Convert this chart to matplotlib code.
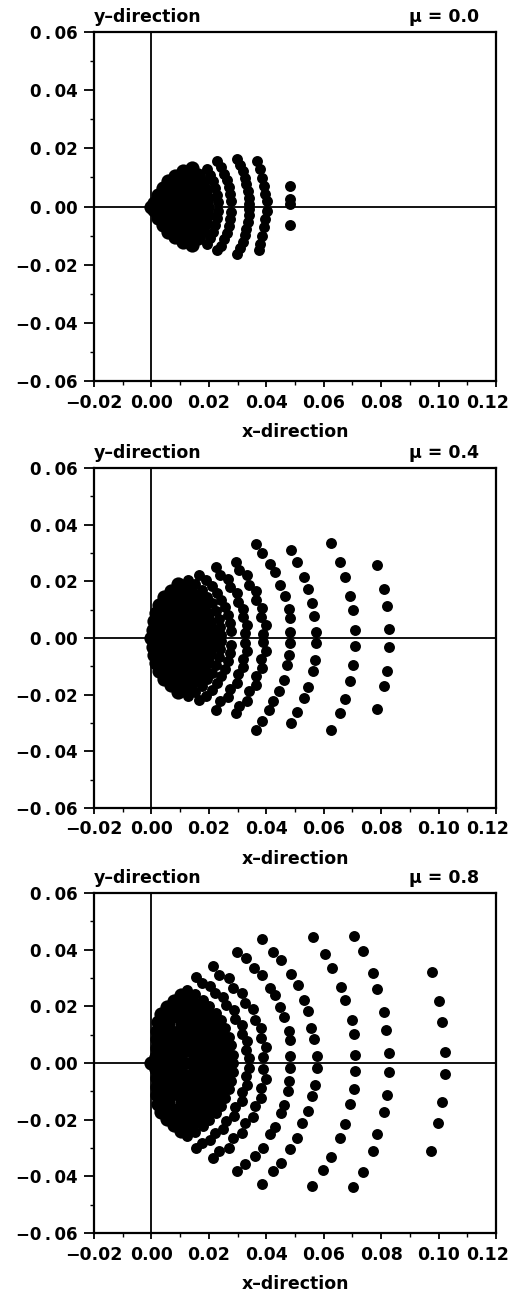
import matplotlib
matplotlib.use("Agg")
import matplotlib.pyplot as plt
from matplotlib.ticker import FixedLocator, MultipleLocator

mu_labels = ["\u03bc = 0.0", "\u03bc = 0.4", "\u03bc = 0.8"]
x_ticks = [-0.02, 0.00, 0.02, 0.04, 0.06, 0.08, 0.10, 0.12]
x_tick_labels = ["\u22120.02", "0.00", "0.02", "0.04", "0.06", "0.08", "0.10", "0.12"]
y_ticks = [-0.06, -0.04, -0.02, 0.00, 0.02, 0.04, 0.06]
y_tick_labels = ["\u22120\u2009.\u200906", "\u22120\u2009.\u200904", "\u22120\u2009.\u200902", "0\u2009.\u200900",
                 "0\u2009.\u200902", "0\u2009.\u200904", "0\u2009.\u200906"]

# ---- mu = 0.0 : (x, y) points ----
pts_mu00 = [
    # outer column
    (0.0483, 0.0072), (0.0483, 0.0025), (0.0483, 0.0007), (0.0483, -0.0065),
    # ring ~0.040
    (0.0367, 0.0156), (0.0379, 0.0128), (0.0385, 0.0099), (0.0391, 0.0071), (0.0397, 0.0042), (0.0402, 0.0019),
    (0.0402, -0.0015), (0.0397, -0.0043), (0.0391, -0.0072), (0.0385, -0.0100), (0.0379, -0.0129), (0.0373, -0.0151),
    # ring ~0.034
    (0.0297, 0.0165), (0.0308, 0.0144), (0.0318, 0.0122), (0.0325, 0.0099), (0.0331, 0.0077), (0.0336, 0.0053), (0.0339, 0.0030), (0.0340, 0.0009),
    (0.0297, -0.0165), (0.0308, -0.0144), (0.0318, -0.0122), (0.0325, -0.0099), (0.0331, -0.0077), (0.0336, -0.0053), (0.0339, -0.0030), (0.0340, -0.0009),
    # ring ~0.028
    (0.0230, 0.0155), (0.0243, 0.0135), (0.0254, 0.0113), (0.0263, 0.0091), (0.0270, 0.0067), (0.0275, 0.0043), (0.0277, 0.0019),
    (0.0230, -0.0150), (0.0243, -0.0135), (0.0254, -0.0113), (0.0263, -0.0091), (0.0270, -0.0067), (0.0275, -0.0043), (0.0277, -0.0019),
    # ring ~0.023
    (0.0192, 0.0130), (0.0205, 0.0109), (0.0215, 0.0087), (0.0223, 0.0064), (0.0229, 0.0040), (0.0231, 0.0016),
    (0.0192, -0.0130), (0.0205, -0.0109), (0.0215, -0.0087), (0.0223, -0.0064), (0.0229, -0.0040), (0.0231, -0.0016),
]
core_mu00 = [
    (0.0195, 0.0), (0.0193, 0.0029), (0.0186, 0.0057), (0.0176, 0.0084), (0.0162, 0.0109), (0.0143, 0.0133),
    (0.0193, -0.0029), (0.0186, -0.0057), (0.0176, -0.0084), (0.0162, -0.0109), (0.0143, -0.0133),
    (0.0165, 0.0), (0.0162, 0.0029), (0.0155, 0.0056), (0.0143, 0.0083), (0.0126, 0.0106), (0.0110, 0.0123),
    (0.0162, -0.0029), (0.0155, -0.0056), (0.0143, -0.0083), (0.0126, -0.0106), (0.0110, -0.0123),
    (0.0135, 0.0), (0.0131, 0.0030), (0.0121, 0.0059), (0.0105, 0.0085), (0.0083, 0.0106),
    (0.0131, -0.0030), (0.0121, -0.0059), (0.0105, -0.0085), (0.0083, -0.0106),
    (0.0105, 0.0), (0.0102, 0.0025), (0.0093, 0.0049), (0.0078, 0.0070), (0.0059, 0.0087),
    (0.0102, -0.0025), (0.0093, -0.0049), (0.0078, -0.0070), (0.0059, -0.0087),
    (0.0075, 0.0), (0.0071, 0.0026), (0.0057, 0.0048), (0.0040, 0.0064),
    (0.0071, -0.0026), (0.0057, -0.0048), (0.0040, -0.0064),
    (0.0045, 0.0), (0.0039, 0.00225), (0.00225, 0.0039), (0.0039, -0.00225), (0.00225, -0.0039),
    (0.0015, 0.0), (0.00075, 0.0013), (0.00075, -0.0013),
    (0.0, 0.0),
]

# ---- mu = 0.4 ----
pts_mu04 = [
    # ring ~0.083
    (0.0787, 0.0256), (0.0810, 0.0172), (0.0820, 0.0112), (0.0828, 0.0032),
    (0.0828, -0.0033), (0.0820, -0.0116), (0.0810, -0.0171), (0.0787, -0.0250),
    # ring ~0.071
    (0.0625, 0.0334), (0.0655, 0.0268), (0.0675, 0.0215), (0.0692, 0.0147), (0.0702, 0.0098), (0.0710, 0.0028),
    (0.0710, -0.0028), (0.0702, -0.0097), (0.0692, -0.0150), (0.0675, -0.0214), (0.0655, -0.0264), (0.0625, -0.0325),
    # ring ~0.057
    (0.0487, 0.0309), (0.0507, 0.0268), (0.0530, 0.0215), (0.0547, 0.0174), (0.0559, 0.0122), (0.0567, 0.0078), (0.0574, 0.0022),
    (0.0574, -0.0019), (0.0568, -0.0077), (0.0562, -0.0118), (0.0547, -0.0174), (0.0530, -0.0212), (0.0507, -0.0262), (0.0487, -0.0299),
    # ring ~0.048
    (0.0364, 0.0332), (0.0385, 0.0301), (0.0414, 0.0262), (0.0431, 0.0233), (0.0449, 0.0186), (0.0466, 0.0149),
    (0.0478, 0.0104), (0.0483, 0.0069), (0.0483, 0.0020), (0.0483, -0.0019), (0.0480, -0.0060), (0.0472, -0.0097),
    (0.0460, -0.0147), (0.0443, -0.0188), (0.0425, -0.0223), (0.0408, -0.0253), (0.0385, -0.0294), (0.0364, -0.0323),
    # ring ~0.040 (staggered pairs)
    (0.0295, 0.0270), (0.0306, 0.0239), (0.0334, 0.0221), (0.0339, 0.0188), (0.0364, 0.0166),
    (0.0365, 0.0133), (0.0386, 0.0107), (0.0381, 0.0074), (0.0398, 0.0045), (0.0388, 0.0014),
    (0.0295, -0.0266), (0.0306, -0.0239), (0.0334, -0.0221), (0.0339, -0.0188), (0.0364, -0.0166),
    (0.0365, -0.0133), (0.0386, -0.0107), (0.0381, -0.0074), (0.0398, -0.0045), (0.0388, -0.0014),
    # ring ~0.034 (staggered pairs)
    (0.0225, 0.0250), (0.0239, 0.0223), (0.0266, 0.0208), (0.0275, 0.0179), (0.0298, 0.0158),
    (0.0301, 0.0128), (0.0320, 0.0104), (0.0318, 0.0074), (0.0334, 0.0047), (0.0327, 0.0018),
    (0.0225, -0.0253), (0.0239, -0.0223), (0.0266, -0.0208), (0.0275, -0.0179), (0.0298, -0.0158),
    (0.0301, -0.0128), (0.0320, -0.0104), (0.0318, -0.0074), (0.0334, -0.0047), (0.0327, -0.0018),
    # ring ~0.028
    (0.0167, 0.0222), (0.0190, 0.0203), (0.0210, 0.0182), (0.0228, 0.0160), (0.0243, 0.0135),
    (0.0256, 0.0109), (0.0266, 0.0081), (0.0273, 0.0053), (0.0277, 0.0024),
    (0.0167, -0.0218), (0.0190, -0.0203), (0.0210, -0.0182), (0.0228, -0.0160), (0.0243, -0.0135),
    (0.0256, -0.0109), (0.0266, -0.0081), (0.0273, -0.0053), (0.0277, -0.0024),
    # ring ~0.024
    (0.0129, 0.0206), (0.0153, 0.0189), (0.0175, 0.0169), (0.0194, 0.0146), (0.0210, 0.0122),
    (0.0224, 0.0095), (0.0234, 0.0067), (0.0240, 0.0038), (0.0243, 0.0009),
    (0.0129, -0.0206), (0.0153, -0.0189), (0.0175, -0.0169), (0.0194, -0.0146), (0.0210, -0.0122),
    (0.0224, -0.0095), (0.0234, -0.0067), (0.0240, -0.0038), (0.0243, -0.0009),
]
core_mu04 = [
    (0.0210, 0.0), (0.0208, 0.0029), (0.0202, 0.0058), (0.0192, 0.0085), (0.0178, 0.0111), (0.0161, 0.0135),
    (0.0140, 0.0156), (0.0117, 0.0174), (0.0092, 0.0189),
    (0.0208, -0.0029), (0.0202, -0.0058), (0.0192, -0.0085), (0.0178, -0.0111), (0.0161, -0.0135),
    (0.0140, -0.0156), (0.0117, -0.0174), (0.0092, -0.0189),
    (0.0180, 0.0), (0.0177, 0.0031), (0.0170, 0.0059), (0.0158, 0.0087), (0.0140, 0.0113), (0.0120, 0.0134),
    (0.0095, 0.0153), (0.0068, 0.0167),
    (0.0177, -0.0031), (0.0170, -0.0059), (0.0158, -0.0087), (0.0140, -0.0113), (0.0120, -0.0134),
    (0.0095, -0.0153), (0.0068, -0.0167),
    (0.0150, 0.0), (0.0147, 0.0031), (0.0137, 0.0061), (0.0121, 0.0088), (0.0100, 0.0111), (0.0075, 0.0130), (0.0044, 0.0143),
    (0.0147, -0.0031), (0.0137, -0.0061), (0.0121, -0.0088), (0.0100, -0.0111), (0.0075, -0.0130), (0.0044, -0.0143),
    (0.0120, 0.0), (0.0116, 0.0032), (0.0103, 0.0062), (0.0082, 0.0088), (0.0056, 0.0106), (0.0025, 0.0117),
    (0.0116, -0.0032), (0.0103, -0.0062), (0.0082, -0.0088), (0.0056, -0.0106), (0.0025, -0.0117),
    (0.0090, 0.0), (0.0085, 0.0031), (0.0069, 0.0058), (0.0045, 0.0078), (0.0016, 0.0089),
    (0.0085, -0.0031), (0.0069, -0.0058), (0.0045, -0.0078), (0.0016, -0.0089),
    (0.0060, 0.0), (0.0053, 0.0027), (0.0035, 0.0049), (0.0010, 0.0059),
    (0.0053, -0.0027), (0.0035, -0.0049), (0.0010, -0.0059),
    (0.0030, 0.0), (0.0023, 0.0019), (0.0005, 0.0030), (0.0023, -0.0019), (0.0005, -0.0030),
    (0.0, 0.0),
]

# ---- mu = 0.8 ----
pts_mu08 = [
    # ring ~0.102
    (0.0976, 0.0320), (0.1002, 0.0219), (0.1013, 0.0144), (0.1023, 0.0039),
    (0.1023, -0.0039), (0.1013, -0.0138), (0.0999, -0.0211), (0.0973, -0.0311),
    # ring ~0.083
    (0.0704, 0.0450), (0.0736, 0.0395), (0.0771, 0.0317), (0.0787, 0.0262), (0.0810, 0.0180), (0.0817, 0.0117), (0.0829, 0.0035),
    (0.0829, -0.0032), (0.0820, -0.0112), (0.0810, -0.0173), (0.0787, -0.0252), (0.0771, -0.0311), (0.0736, -0.0384), (0.0701, -0.0438),
    # ring ~0.071
    (0.0562, 0.0446), (0.0603, 0.0384), (0.0628, 0.0337), (0.0660, 0.0270), (0.0675, 0.0223), (0.0698, 0.0152), (0.0704, 0.0102), (0.0710, 0.0029),
    (0.0710, -0.0027), (0.0704, -0.0090), (0.0692, -0.0144), (0.0675, -0.0215), (0.0655, -0.0264), (0.0625, -0.0332), (0.0599, -0.0376), (0.0559, -0.0434),
    # ring ~0.057
    (0.0385, 0.0438), (0.0423, 0.0391), (0.0451, 0.0364), (0.0486, 0.0313), (0.0509, 0.0276), (0.0530, 0.0223), (0.0547, 0.0182),
    (0.0555, 0.0123), (0.0567, 0.0086), (0.0576, 0.0024), (0.0576, -0.0018), (0.0570, -0.0076), (0.0559, -0.0117), (0.0547, -0.0170),
    (0.0524, -0.0211), (0.0507, -0.0264), (0.0483, -0.0305), (0.0451, -0.0352), (0.0423, -0.0381), (0.0385, -0.0426),
    # ring ~0.048
    (0.0298, 0.0393), (0.0330, 0.0370), (0.0358, 0.0337), (0.0385, 0.0309), (0.0414, 0.0264), (0.0431, 0.0241),
    (0.0449, 0.0196), (0.0463, 0.0164), (0.0478, 0.0114), (0.0483, 0.0082), (0.0483, 0.0024),
    (0.0483, -0.0018), (0.0480, -0.0064), (0.0474, -0.0100), (0.0460, -0.0147), (0.0451, -0.0176), (0.0431, -0.0226),
    (0.0414, -0.0252), (0.0388, -0.0299), (0.0362, -0.0329), (0.0327, -0.0356), (0.0298, -0.0381),
    # ring ~0.040 (staggered pairs)
    (0.0213, 0.0341), (0.0235, 0.0311), (0.0269, 0.0299), (0.0285, 0.0266), (0.0317, 0.0248), (0.0327, 0.0212),
    (0.0355, 0.0189), (0.0359, 0.0152), (0.0382, 0.0124), (0.0380, 0.0087), (0.0398, 0.0056), (0.0390, 0.0021),
    (0.0213, -0.0337), (0.0235, -0.0311), (0.0269, -0.0299), (0.0285, -0.0266), (0.0317, -0.0248), (0.0327, -0.0212),
    (0.0355, -0.0189), (0.0359, -0.0152), (0.0382, -0.0124), (0.0380, -0.0087), (0.0398, -0.0056), (0.0390, -0.0021),
    # ring ~0.034 (staggered pairs)
    (0.0155, 0.0304), (0.0176, 0.0281), (0.0205, 0.0272), (0.0221, 0.0246), (0.0249, 0.0233), (0.0261, 0.0204), (0.0286, 0.0186),
    (0.0292, 0.0155), (0.0314, 0.0133), (0.0314, 0.0102), (0.0332, 0.0077), (0.0328, 0.0046), (0.0341, 0.0018),
    (0.0155, -0.0300), (0.0176, -0.0281), (0.0205, -0.0272), (0.0221, -0.0246), (0.0249, -0.0233), (0.0261, -0.0204), (0.0286, -0.0186),
    (0.0292, -0.0155), (0.0314, -0.0133), (0.0314, -0.0102), (0.0332, -0.0077), (0.0328, -0.0046), (0.0341, -0.0018),
    # ring ~0.0285 (edge of the dense core)
    (0.0285, 0.0), (0.0283, 0.0030), (0.0277, 0.0064), (0.0270, 0.0093), (0.0256, 0.0125), (0.0242, 0.0151),
    (0.0224, 0.0176), (0.0202, 0.0202), (0.0180, 0.0221), (0.0151, 0.0242), (0.0125, 0.0256),
    (0.0283, -0.0030), (0.0277, -0.0064), (0.0270, -0.0093), (0.0256, -0.0125), (0.0242, -0.0151),
    (0.0224, -0.0176), (0.0202, -0.0202), (0.0180, -0.0221), (0.0151, -0.0242), (0.0125, -0.0256),
]
core_mu08 = [
    (0.0260, 0.0), (0.0258, 0.0035), (0.0251, 0.0068), (0.0241, 0.0097), (0.0226, 0.0127), (0.0208, 0.0157),
    (0.0185, 0.0182), (0.0160, 0.0205), (0.0132, 0.0223), (0.0102, 0.0239),
    (0.0258, -0.0035), (0.0251, -0.0068), (0.0241, -0.0097), (0.0226, -0.0127), (0.0208, -0.0157),
    (0.0185, -0.0182), (0.0160, -0.0205), (0.0132, -0.0223), (0.0102, -0.0239),
    (0.0232, 0.0), (0.0229, 0.0036), (0.0221, 0.0070), (0.0208, 0.0102), (0.0190, 0.0133), (0.0167, 0.0161),
    (0.0141, 0.0184), (0.0113, 0.0203), (0.0079, 0.0218),
    (0.0229, -0.0036), (0.0221, -0.0070), (0.0208, -0.0102), (0.0190, -0.0133), (0.0167, -0.0161),
    (0.0141, -0.0184), (0.0113, -0.0203), (0.0079, -0.0218),
    (0.0203, 0.0), (0.0200, 0.0038), (0.0189, 0.0074), (0.0172, 0.0108), (0.0148, 0.0139), (0.0121, 0.0163),
    (0.0089, 0.0182), (0.0053, 0.0196),
    (0.0200, -0.0038), (0.0189, -0.0074), (0.0172, -0.0108), (0.0148, -0.0139), (0.0121, -0.0163),
    (0.0089, -0.0182), (0.0053, -0.0196),
    (0.0175, 0.0), (0.0170, 0.0040), (0.0156, 0.0079), (0.0134, 0.0113), (0.0105, 0.0140), (0.0069, 0.0161), (0.0032, 0.0172),
    (0.0170, -0.0040), (0.0156, -0.0079), (0.0134, -0.0113), (0.0105, -0.0140), (0.0069, -0.0161), (0.0032, -0.0172),
    (0.0145, 0.0), (0.0139, 0.0041), (0.0121, 0.0079), (0.0094, 0.0111), (0.0058, 0.0133), (0.0022, 0.0144),
    (0.0139, -0.0041), (0.0121, -0.0079), (0.0094, -0.0111), (0.0058, -0.0133), (0.0022, -0.0144),
    (0.0115, 0.0), (0.0108, 0.0040), (0.0087, 0.0075), (0.0055, 0.0101), (0.0021, 0.0114),
    (0.0108, -0.0040), (0.0087, -0.0075), (0.0055, -0.0101), (0.0021, -0.0114),
    (0.0085, 0.0), (0.0076, 0.0039), (0.0051, 0.0068), (0.0020, 0.0084),
    (0.0076, -0.0039), (0.0051, -0.0068), (0.0020, -0.0084),
    (0.0055, 0.0), (0.0044, 0.0033), (0.0019, 0.0053), (0.0044, -0.0033), (0.0019, -0.0053),
    (0.0025, 0.0), (0.0017, 0.0022), (0.0017, -0.0022),
    (0.0, 0.0),
]

panels = [(pts_mu00, core_mu00), (pts_mu04, core_mu04), (pts_mu08, core_mu08)]

W, H = 514, 1292
fig = plt.figure(figsize=(W / 100, H / 100), dpi=100)

# axes boxes in pixels: (left, top, right, bottom)
boxes = [(94, 32, 496, 381), (94, 468, 496, 808), (94, 893, 496, 1233)]

FONT = "DejaVu Sans"
TICK_FS = 12.5
for (pts, core), mu, (l, t, r, b) in zip(panels, mu_labels, boxes):
    ax = fig.add_axes([l / W, 1 - b / H, (r - l) / W, (b - t) / H])
    ax.axhline(0, color="black", lw=1.3, zorder=1)
    ax.axvline(0, color="black", lw=1.3, zorder=1)
    ax.scatter([p[0] for p in core], [p[1] for p in core], s=105, c="black", linewidths=0, zorder=2)
    ax.scatter([p[0] for p in pts], [p[1] for p in pts], s=62, c="black", linewidths=0, zorder=2)
    ax.set_xlim(-0.02, 0.12)
    ax.set_ylim(-0.06, 0.06)
    ax.xaxis.set_major_locator(FixedLocator(x_ticks))
    ax.yaxis.set_major_locator(FixedLocator(y_ticks))
    # the last x label sits slightly left of its tick (as in the original), so it is drawn separately
    ax.set_xticklabels(x_tick_labels[:-1] + [""], fontsize=TICK_FS, fontweight="bold", family=FONT)
    ax.annotate(x_tick_labels[-1], xy=(x_ticks[-1], 0), xycoords=ax.get_xaxis_transform(),
                xytext=(-6, -9), textcoords="offset points", ha="center", va="top",
                fontsize=TICK_FS, fontweight="bold", family=FONT)
    ax.set_yticklabels(y_tick_labels, fontsize=12, fontweight="bold", family=FONT)
    ax.xaxis.set_minor_locator(MultipleLocator(0.01))
    ax.yaxis.set_minor_locator(MultipleLocator(0.01))
    ax.tick_params(axis="x", which="major", direction="out", length=4, width=1.3, pad=5)
    ax.tick_params(axis="x", which="minor", direction="out", length=3, width=1.0)
    ax.tick_params(axis="y", which="major", direction="out", length=7, width=1.3, pad=5)
    ax.tick_params(axis="y", which="minor", direction="out", length=3, width=1.0)
    for sp in ax.spines.values():
        sp.set_linewidth(1.6)
    ax.annotate("y\u2013direction", xy=(0, 1), xycoords="axes fraction",
                xytext=(0, 7), textcoords="offset points", ha="left", va="baseline",
                fontsize=12.5, fontweight="bold", family=FONT)
    ax.annotate(mu, xy=(0.958, 1), xycoords="axes fraction",
                xytext=(0, 7), textcoords="offset points", ha="right", va="baseline",
                fontsize=12.5, fontweight="bold", family=FONT)
    ax.annotate("x\u2013direction", xy=(0.5, 0), xycoords="axes fraction",
                xytext=(0, -37), textcoords="offset points", ha="center", va="center",
                fontsize=12.5, fontweight="bold", family=FONT)

fig.savefig("out.png", dpi=100, facecolor="white")
